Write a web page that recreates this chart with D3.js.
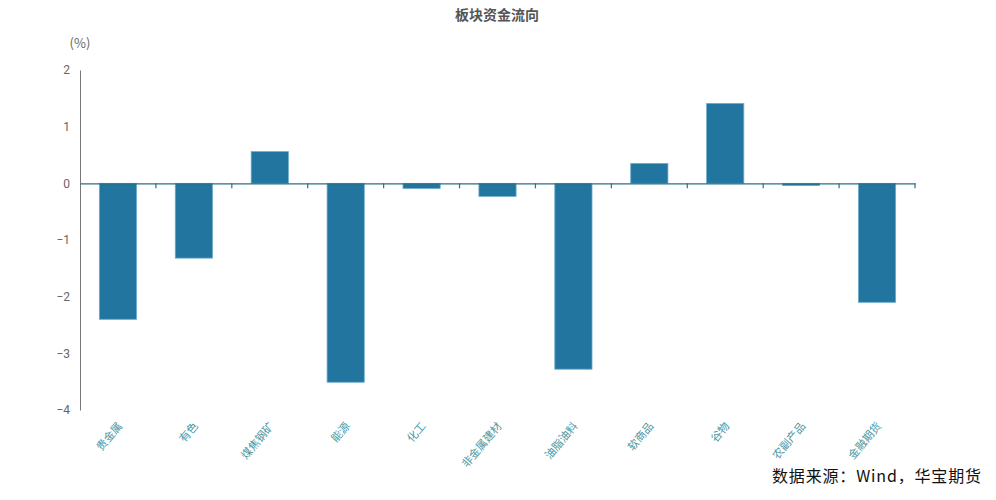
<!DOCTYPE html>
<html>
<head>
<meta charset="utf-8">
<script src="https://cdn.jsdelivr.net/npm/d3@7"></script>
<style>
  body { margin: 0; background: #fff; }
  svg { font-family: "Noto Sans CJK SC", "Noto Sans", sans-serif; }
</style>
</head>
<body>
<div id="chart"></div>
<script>
// data
const categories = ['贵金属', '有色', '煤焦钢矿', '能源', '化工', '非金属建材', '油脂油料', '软商品', '谷物', '农副产品', '金融期货'];
const flows = [-2.40, -1.32, 0.56, -3.51, -0.09, -0.23, -3.28, 0.35, 1.41, -0.04, -2.10];
const yTicks = [2, 1, 0, -1, -2, -3, -4];

const width = 996, height = 500;
const plotLeft = 80, plotRight = 915, plotTop = 70, plotBottom = 410;

const svg = d3.select('#chart').append('svg')
    .attr('width', width)
    .attr('height', height);

// scales
const x = d3.scaleBand()
    .domain(categories)
    .range([plotLeft, plotRight])
    .paddingInner(0)
    .paddingOuter(0);

const y = d3.scaleLinear()
    .domain([-4, 2])
    .range([plotBottom, plotTop]);

// title
svg.append('text')
    .attr('x', 497)
    .attr('y', 20)
    .attr('text-anchor', 'middle')
    .attr('font-size', 14)
    .attr('font-weight', 'bold')
    .attr('fill', '#555')
    .text('板块资金流向');

svg.append('text')
    .attr('x', 80)
    .attr('y', 48)
    .attr('text-anchor', 'middle')
    .attr('font-size', 13)
    .attr('fill', '#666')
    .text('(%)');

// y axis
const yAxis = d3.axisLeft(y)
    .tickValues(yTicks)
    .tickSize(0)
    .tickPadding(10)
    .tickFormat(d3.format('d'));

const yG = svg.append('g')
    .attr('transform', `translate(${plotLeft},0)`)
    .call(yAxis);
yG.select('.domain').attr('stroke', '#777');
yG.selectAll('text')
    .attr('font-size', 12)
    .attr('fill', '#666')
    .attr('font-family', 'Roboto, "Noto Sans", sans-serif');

// bars
const barW = x.bandwidth() * 0.49;
svg.append('g')
    .selectAll('rect')
    .data(flows)
    .join('rect')
    .attr('x', (d, i) => x(categories[i]) + (x.bandwidth() - barW) / 2)
    .attr('y', d => y(Math.max(0, d)))
    .attr('width', barW)
    .attr('height', d => Math.abs(y(d) - y(0)))
    .attr('fill', '#21759f')
    .attr('stroke', '#6aaccb')
    .attr('stroke-width', 0.8);

// x axis at zero
const xAxis = d3.axisBottom(x)
    .tickSize(0)
    .tickFormat('');

const xG = svg.append('g')
    .attr('transform', `translate(0,${y(0)})`)
    .call(xAxis);
xG.select('.domain').attr('stroke', '#2b6f88').attr('stroke-width', 1.2);

// band boundary ticks
svg.append('g')
    .selectAll('line')
    .data(categories)
    .join('line')
    .attr('x1', d => x(d) + x.bandwidth())
    .attr('x2', d => x(d) + x.bandwidth())
    .attr('y1', y(0))
    .attr('y2', y(0) + 5)
    .attr('stroke', '#2b6f88')
    .attr('stroke-width', 1.2);

// category labels
svg.append('g')
    .selectAll('text')
    .data(categories)
    .join('text')
    .attr('transform', d => `translate(${x(d) + x.bandwidth() / 2 + 1},423) rotate(-50)`)
    .attr('text-anchor', 'end')
    .attr('dominant-baseline', 'central')
    .attr('font-size', 11)
    .attr('fill', '#4a98a3')
    .text(d => d);

// source note
svg.append('text')
    .attr('x', 772)
    .attr('y', 482)
    .attr('font-size', 16)
    .attr('fill', '#111')
    .attr('textLength', 209)
    .attr('lengthAdjust', 'spacing')
    .text('数据来源：Wind，华宝期货');
</script>
</body>
</html>
